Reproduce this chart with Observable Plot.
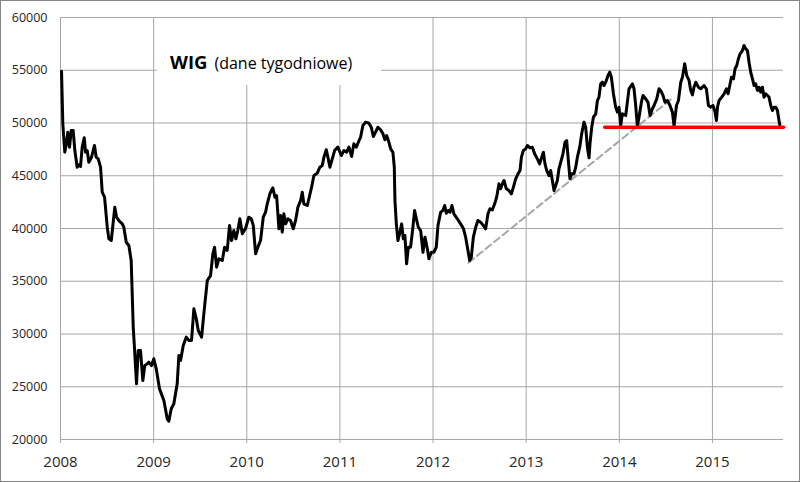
<!DOCTYPE html>
<html>
<head>
<meta charset="utf-8">
<script src="https://cdn.jsdelivr.net/npm/d3@7"></script>
<script src="https://cdn.jsdelivr.net/npm/@observablehq/plot@0.6"></script>
<style>
  html, body { margin: 0; padding: 0; background: #fff; }
  #chart { position: relative; width: 800px; height: 482px; }
</style>
</head>
<body>
<div id="chart"></div>
<script>
// Title
const titleMain = "WIG";
const titleSub = "(dane tygodniowe)";

// Axis ticks
const yearTicks = [2008, 2009, 2010, 2011, 2012, 2013, 2014, 2015];
const valueTicks = [20000, 25000, 30000, 35000, 40000, 45000, 50000, 55000, 60000];

// Weekly WIG index values: [decimal year, value]
const wigWeekly = [
[2008.011,54910],[2008.025,49920],[2008.046,47230],[2008.064,48030],[2008.078,49130],[2008.097,47710],
[2008.115,49290],[2008.136,49290],[2008.154,47390],[2008.179,45810],[2008.197,46040],[2008.215,45880],
[2008.233,47710],[2008.255,48600],[2008.269,47230],[2008.287,47390],[2008.304,46280],[2008.333,46760],
[2008.365,47870],[2008.383,46760],[2008.405,46600],[2008.430,45810],[2008.448,43440],[2008.473,42970],
[2008.502,40120],[2008.519,39020],[2008.545,38860],[2008.562,40280],[2008.583,42020],[2008.602,41070],
[2008.626,40760],[2008.663,40440],[2008.680,40120],[2008.706,38700],[2008.734,38390],[2008.759,36970],
[2008.770,33810],[2008.781,30640],[2008.798,28120],[2008.816,25280],[2008.835,28430],[2008.859,28430],
[2008.884,25590],[2008.905,27010],[2008.931,27170],[2008.948,27330],[2008.977,27010],[2009.002,27650],
[2009.028,26700],[2009.063,24800],[2009.110,23700],[2009.146,21960],[2009.163,21730],[2009.189,22910],
[2009.217,23390],[2009.253,25280],[2009.271,27960],[2009.289,27490],[2009.318,28910],[2009.350,29700],
[2009.378,29390],[2009.407,29390],[2009.432,32390],[2009.458,31440],[2009.479,30330],[2009.515,29700],
[2009.539,31910],[2009.576,35070],[2009.611,35540],[2009.636,37600],[2009.654,38230],[2009.676,36330],
[2009.700,37130],[2009.737,36970],[2009.762,38230],[2009.790,37920],[2009.815,40280],[2009.837,38860],
[2009.861,39810],[2009.883,39020],[2009.904,39810],[2009.926,40920],[2009.952,39500],[2009.987,40000],
[2010.022,41070],[2010.048,40920],[2010.070,40280],[2010.095,37600],[2010.119,38230],[2010.148,38860],
[2010.177,41070],[2010.202,41550],[2010.220,42340],[2010.248,43290],[2010.280,43860],[2010.302,42970],
[2010.320,43130],[2010.334,41390],[2010.345,39970],[2010.363,41230],[2010.381,39650],[2010.398,41390],
[2010.417,40440],[2010.441,40920],[2010.470,40760],[2010.499,39970],[2010.524,40760],[2010.549,42020],
[2010.578,42650],[2010.596,43440],[2010.613,42340],[2010.650,42180],[2010.675,43130],[2010.696,43920],
[2010.721,45020],[2010.757,45240],[2010.785,45810],[2010.811,45970],[2010.828,46760],[2010.854,47460],
[2010.871,46760],[2010.893,45810],[2010.918,46600],[2010.943,47390],[2010.978,47710],[2011.015,46920],
[2011.043,47390],[2011.072,47230],[2011.097,47710],[2011.126,46830],[2011.150,48030],[2011.176,47710],
[2011.198,48180],[2011.222,48650],[2011.247,49760],[2011.276,50080],[2011.311,49980],[2011.337,49600],
[2011.359,48720],[2011.383,49130],[2011.408,49600],[2011.437,49360],[2011.462,48980],[2011.483,48410],
[2011.502,48810],[2011.526,48180],[2011.545,47550],[2011.569,47230],[2011.584,45810],[2011.591,42650],
[2011.606,40440],[2011.623,38860],[2011.645,39650],[2011.663,40440],[2011.681,39020],[2011.698,39340],
[2011.716,36650],[2011.735,38230],[2011.759,38230],[2011.784,40120],[2011.802,41710],[2011.821,40920],
[2011.842,40120],[2011.867,39810],[2011.892,37750],[2011.913,39180],[2011.939,38070],[2011.956,37130],
[2011.982,37750],[2012.010,37750],[2012.035,38230],[2012.053,40300],[2012.082,41550],[2012.106,41710],
[2012.125,42180],[2012.143,41450],[2012.164,41710],[2012.182,41550],[2012.203,42180],[2012.224,41390],
[2012.261,40920],[2012.296,40440],[2012.325,40030],[2012.350,39180],[2012.375,37920],[2012.393,36970],
[2012.411,37280],[2012.433,39180],[2012.458,40120],[2012.482,40760],[2012.511,40600],[2012.540,40280],
[2012.565,39970],[2012.590,41390],[2012.611,41870],[2012.637,41770],[2012.662,42340],[2012.683,42970],
[2012.708,44230],[2012.726,43760],[2012.744,44230],[2012.762,44550],[2012.787,43760],[2012.815,43600],
[2012.841,43290],[2012.863,43920],[2012.887,44710],[2012.912,45180],[2012.934,45500],[2012.949,46760],
[2012.970,47390],[2012.995,47550],[2013.013,47870],[2013.041,47650],[2013.067,47710],[2013.091,47080],
[2013.120,46600],[2013.145,46130],[2013.167,46760],[2013.185,47230],[2013.202,46130],[2013.220,45500],
[2013.245,45020],[2013.263,45500],[2013.281,44550],[2013.299,43600],[2013.317,44080],[2013.335,44550],
[2013.352,45660],[2013.371,46280],[2013.395,47080],[2013.417,48180],[2013.435,48340],[2013.453,46440],
[2013.470,44710],[2013.489,45180],[2013.513,45180],[2013.532,45810],[2013.550,46760],[2013.575,47710],
[2013.596,48980],[2013.621,50080],[2013.639,49600],[2013.657,47710],[2013.675,46700],[2013.685,48030],
[2013.704,49600],[2013.722,50550],[2013.747,50870],[2013.765,52130],[2013.782,52450],[2013.800,53710],
[2013.819,53870],[2013.836,53550],[2013.854,53870],[2013.879,54500],[2013.897,54820],[2013.915,54340],
[2013.937,52770],[2013.961,51500],[2013.980,51030],[2013.997,51500],[2014.015,49750],[2014.033,50870],
[2014.069,50710],[2014.104,53240],[2014.141,53710],[2014.158,53240],[2014.176,51660],[2014.194,49700],
[2014.212,50550],[2014.237,51970],[2014.255,52610],[2014.284,52290],[2014.308,51970],[2014.330,50710],
[2014.356,51350],[2014.373,51660],[2014.402,52290],[2014.426,53240],[2014.445,53080],[2014.469,52610],
[2014.491,51970],[2014.517,52130],[2014.544,51660],[2014.570,51030],[2014.588,49700],[2014.614,51660],
[2014.635,52130],[2014.660,53870],[2014.678,54340],[2014.702,55610],[2014.724,54500],[2014.749,54030],
[2014.767,53080],[2014.785,52670],[2014.802,53390],[2014.821,53870],[2014.850,53390],[2014.874,53240],
[2014.910,53550],[2014.935,53240],[2014.957,51660],[2014.982,51500],[2015.006,51660],[2015.028,51030],
[2015.043,50240],[2015.054,51500],[2015.071,52130],[2015.100,52450],[2015.125,52770],[2015.150,53240],
[2015.168,52770],[2015.186,53550],[2015.204,54340],[2015.226,54190],[2015.243,55140],[2015.261,55450],
[2015.279,56090],[2015.297,56560],[2015.322,56870],[2015.339,57350],[2015.358,57030],[2015.376,56870],
[2015.393,55760],[2015.411,54810],[2015.430,54190],[2015.447,53550],[2015.465,53710],[2015.483,53080],
[2015.501,53390],[2015.519,52920],[2015.537,53390],[2015.554,52450],[2015.572,52770],[2015.591,52610],
[2015.608,52450],[2015.626,51660],[2015.644,51180],[2015.662,51500],[2015.680,51500],[2015.698,51180],
[2015.709,50550],[2015.723,49800]
];

// Support level (red) and rising trend line (grey dashed)
const supportLine = [[2013.843, 49600], [2015.765, 49600]];
const trendLine = [[2012.38, 36750], [2014.57, 52350]];

const xDomain = [2008, 2015.763];
const yDomain = [20000, 60000];

const gridColor = "#a6a6a6";

const chart = Plot.plot({
  width: 800,
  height: 482,
  marginLeft: 60,
  marginRight: 17,
  marginTop: 17,
  marginBottom: 43,
  style: { fontFamily: "'Open Sans', sans-serif", background: "white", color: "#262626" },
  x: { type: "linear", domain: xDomain, label: null },
  y: { domain: yDomain, label: null },
  marks: [
    Plot.ruleY(valueTicks, { stroke: gridColor, strokeWidth: 1 }),
    Plot.ruleX(yearTicks, { stroke: gridColor, strokeWidth: 1, insetBottom: -4 }),
    Plot.axisY({ ticks: valueTicks, tickFormat: d => String(d), tickSize: 0, tickPadding: 13, fontSize: 12.5, label: null }),
    Plot.axisX({ ticks: yearTicks, tickFormat: d => String(d), tickSize: 0, tickPadding: 17, fontSize: 15, label: null }),
    Plot.line(trendLine, { x: d => d[0], y: d => d[1], stroke: "#a6a6a6", strokeWidth: 2, strokeDasharray: "7,4" }),
    Plot.line(wigWeekly, { x: d => d[0], y: d => d[1], stroke: "#000", strokeWidth: 3, strokeLinejoin: "round", strokeLinecap: "round" }),
    Plot.line(supportLine, { x: d => d[0], y: d => d[1], stroke: "#ff0000", strokeWidth: 3.4 })
  ]
});

document.getElementById("chart").appendChild(chart);

// Title box (white panel hiding gridlines) and outer border
const svg = d3.select(chart);
svg.append("rect")
  .attr("x", 157).attr("y", 18).attr("width", 224).attr("height", 67)
  .attr("fill", "white");
const t = svg.append("text")
  .attr("x", 170).attr("y", 68.5)
  .attr("text-anchor", "start")
  .attr("fill", "#000")
  .style("font-family", "'Open Sans', sans-serif");
t.append("tspan").attr("font-weight", "bold").attr("font-size", 18.5).text(titleMain);
t.append("tspan").attr("dx", 7).attr("font-size", 16).text(titleSub);

svg.append("rect")
  .attr("x", 0.5).attr("y", 0.5).attr("width", 799).attr("height", 481)
  .attr("fill", "none").attr("stroke", "#868686").attr("stroke-width", 1);
</script>
</body>
</html>
